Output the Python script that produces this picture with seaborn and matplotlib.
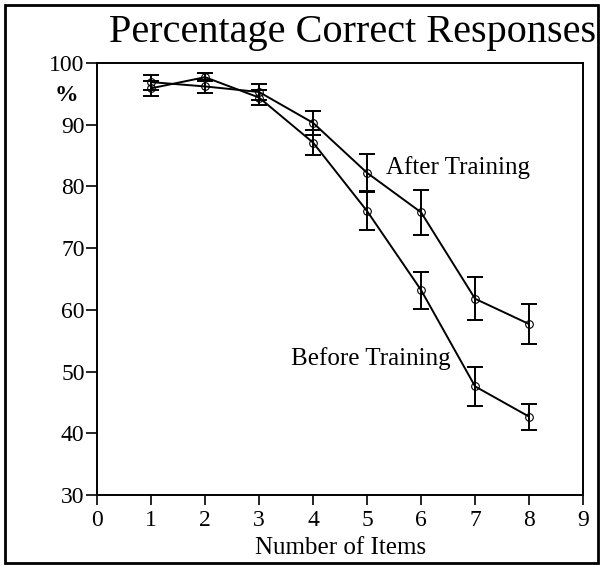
import numpy as np
import pandas as pd
import matplotlib
matplotlib.use('Agg')
import matplotlib.pyplot as plt
import seaborn as sns
from matplotlib.patches import Rectangle

# values
items = [1, 2, 3, 4, 5, 6, 7, 8]
before = [95.9, 97.7, 94.4, 87.1, 76.0, 63.2, 47.6, 42.7]
before_err = [1.2, 0.6, 1.2, 2.0, 3.1, 3.0, 3.2, 2.1]
after = [96.9, 96.2, 95.3, 90.3, 82.2, 75.8, 61.8, 57.7]
after_err = [1.2, 1.0, 1.3, 1.9, 3.0, 3.6, 3.5, 3.3]

df = pd.DataFrame({
    'items': items * 2,
    'pct': before + after,
    'err': before_err + after_err,
    'group': ['Before Training'] * 8 + ['After Training'] * 8,
})

sns.set_style('white')
plt.rcParams['font.family'] = ['Liberation Serif', 'DejaVu Serif']
plt.rcParams['text.color'] = 'black'
plt.rcParams['axes.labelcolor'] = 'black'

fig = plt.figure(figsize=(6.03, 5.66), dpi=100)
ax = fig.add_axes([0.161, 0.1254, 0.806, 0.7633])

sns.lineplot(data=df, x='items', y='pct', hue='group', palette=['black', 'black'],
             marker='o', markersize=5.5, markerfacecolor='none', markeredgecolor='black',
             markeredgewidth=0.8, linewidth=1.4, legend=False, ax=ax)
for g, sub in df.groupby('group'):
    ax.errorbar(sub['items'], sub['pct'], yerr=sub['err'], fmt='none', ecolor='black',
                elinewidth=1.4, capsize=6, capthick=1.4)

ax.set_xlim(0, 9)
ax.set_ylim(30, 100)
ax.set_xticks(range(0, 10))
ax.set_yticks(range(30, 101, 10))
ax.tick_params(direction='out', length=8, width=1.2, labelsize=17, pad=1,
               bottom=True, left=True, colors='black')
ax.tick_params(axis='x', length=7, pad=4)
for s in ax.spines.values():
    s.set_color('black')
    s.set_linewidth(1.4)

ax.set_xlabel('Number of Items', fontsize=18, labelpad=4)
ax.set_ylabel('')

ax.text(6.69, 83.1, 'After Training', fontsize=18, ha='center', va='center')
ax.text(5.06, 52.2, 'Before Training', fontsize=18, ha='center', va='center')

fig.text(0.111, 0.832, '%', fontsize=17, fontweight='bold', ha='center', va='center')
fig.text(0.584, 0.943, 'Percentage Correct Responses', fontsize=29, ha='center', va='center')

fig.patches.append(Rectangle((0.009, 0.005), 0.982, 0.987, transform=fig.transFigure,
                             fill=False, edgecolor='black', linewidth=2))

fig.savefig('out.png', dpi=100)
